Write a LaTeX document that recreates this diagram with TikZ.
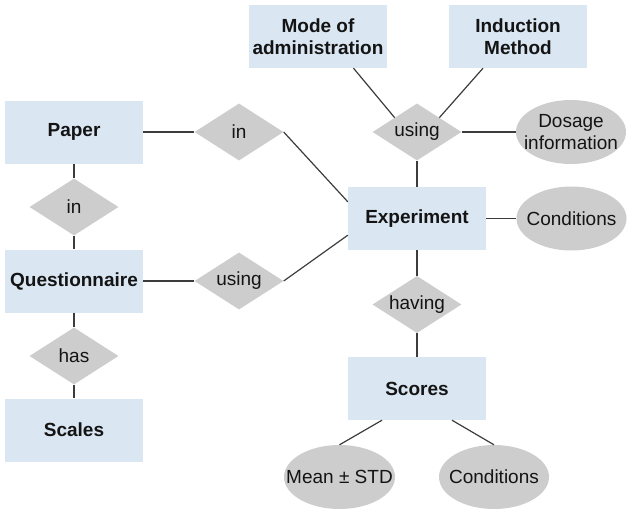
\documentclass[tikz,border=0pt]{standalone}
\usepackage{fontspec}
\setmainfont{Liberation Sans}
\usetikzlibrary{shapes.geometric,calc}
\definecolor{entblue}{RGB}{218,231,243}
\definecolor{relgray}{RGB}{205,205,205}
\definecolor{linegray}{RGB}{60,60,60}
\definecolor{txt}{RGB}{20,20,20}
\tikzset{
  entity/.style={rectangle, fill=entblue, minimum width=138pt, minimum height=63pt, inner sep=0pt,
    align=center, text=txt, font=\fontsize{19}{22}\selectfont\bfseries},
  relation/.style={diamond, fill=relgray, minimum width=89pt, minimum height=57pt, inner sep=0pt,
    shape aspect=1.6, text=txt, font=\fontsize{19}{22}\selectfont},
  attrib/.style={ellipse, fill=relgray, minimum width=110pt, minimum height=64pt, inner xsep=-14pt, inner ysep=0pt,
    align=center, text=txt, font=\fontsize{19}{21.5}\selectfont},
  conn/.style={draw=linegray, line width=1.2pt}
}
\begin{document}
\begin{tikzpicture}[x=1pt,y=-1pt]
\useasboundingbox (0,0) rectangle (638,515);
% entities
\node[entity] (paper) at (74,132) {Paper};
\node[entity] (quest) at (74,281) {Questionnaire};
\node[entity] (scales) at (74,430) {Scales};
\node[entity] (mode) at (318,36.5) {Mode of\\administration};
\node[entity] (induct) at (518,36.5) {Induction\\Method};
\node[entity] (exp) at (417,218.5) {Experiment};
\node[entity] (scores) at (417,388.5) {Scores};
% relations
\node[relation] (inA) at (239,132) {in};
\node[relation] (inB) at (74,207) {in};
\node[relation] (usingA) at (239,281) {using};
\node[relation] (has) at (74,356) {has};
\node[relation] (usingB) at (417,132) {using};
\node[relation] (having) at (417,304.5) {having};
% attributes
\node[attrib] (dosage) at (571,132) {Dosage\\information};
\node[attrib] (condA) at (571.5,218.5) {Conditions};
\node[attrib] (mean) at (339.5,477) {Mean ± STD};
\node[attrib] (condB) at (494,477) {Conditions};
% connectors
\draw[conn] (paper) -- (inA);
\draw[conn] (inA.east) -- ($(exp.north west)+(0,15)$);
\draw[conn] (paper) -- (inB);
\draw[conn] (inB) -- (quest);
\draw[conn] (quest) -- (usingA);
\draw[conn] (usingA.east) -- ($(exp.south west)+(0,-15)$);
\draw[conn] (quest) -- (has);
\draw[conn] (has) -- (scales);
\draw[conn] ($(mode.south)+(35.5,0)$) -- (usingB.north west);
\draw[conn] ($(induct.south)+(-35,0)$) -- (usingB.north east);
\draw[conn] (usingB) -- (dosage);
\draw[conn] (usingB) -- (exp);
\draw[conn] (exp) -- (condA);
\draw[conn] (exp) -- (having);
\draw[conn] (having) -- (scores);
\draw[conn] ($(scores.south)+(-35,0)$) -- (mean.north);
\draw[conn] ($(scores.south)+(35,0)$) -- (condB.north);
\end{tikzpicture}
\end{document}
